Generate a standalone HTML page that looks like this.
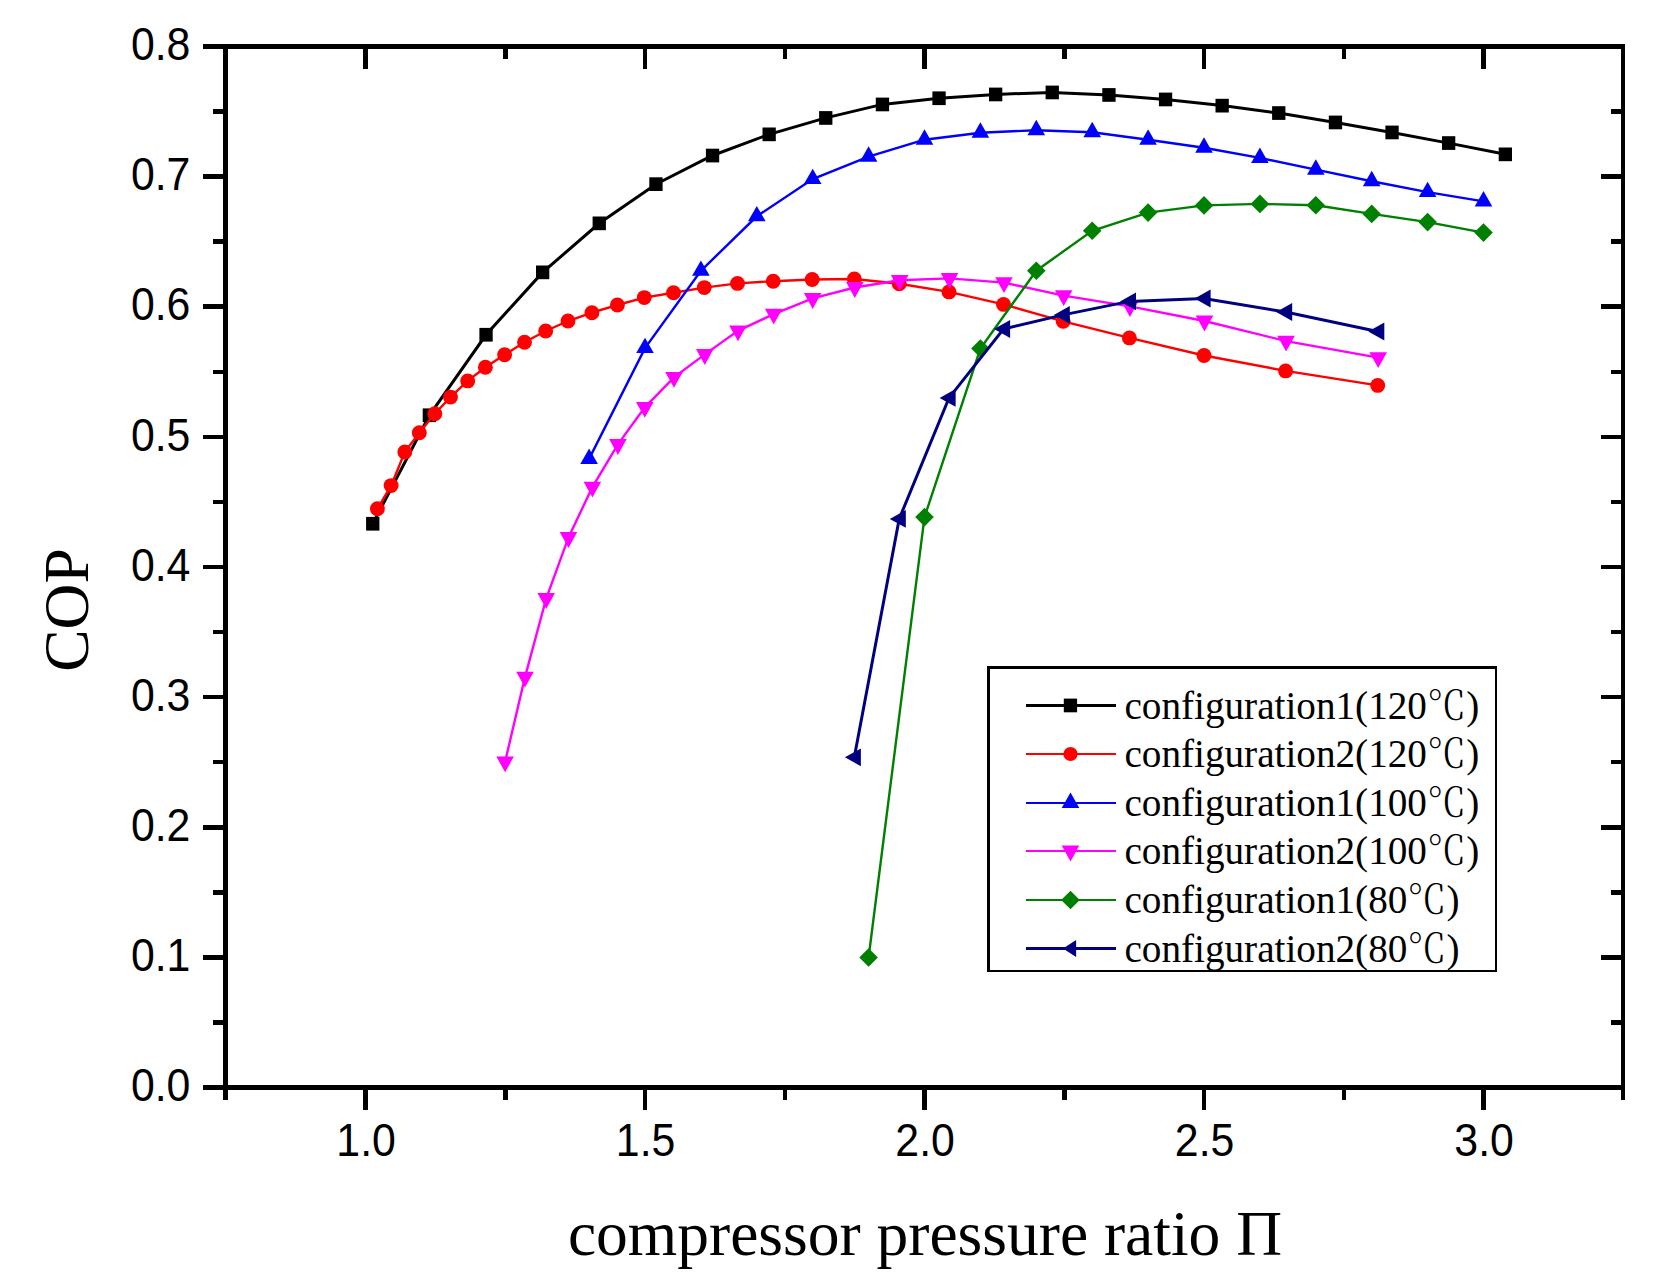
<!DOCTYPE html>
<html lang="en"><head><meta charset="utf-8"><title>COP vs compressor pressure ratio</title>
<style>html,body{margin:0;padding:0;background:#fff}body{width:1668px;height:1283px;overflow:hidden}svg{display:block}.tk{font-family:"Liberation Sans",sans-serif;font-size:45.4px;fill:#000}.ti{font-family:"Liberation Serif",serif;font-size:63.5px;fill:#000}.lg{font-family:"Liberation Serif","Noto Serif CJK SC",serif;font-size:39.2px;fill:#000}.dc{font-family:"Noto Serif CJK SC","Liberation Serif",serif;font-weight:300}</style></head><body>
<svg width="1668" height="1283" viewBox="0 0 1668 1283">
<rect width="1668" height="1283" fill="#fff"/>
<g stroke="#000" stroke-width="5.0" stroke-linecap="butt" fill="none">
<line x1="203" y1="46.5" x2="1625.0" y2="46.5"/>
<line x1="203" y1="1087.5" x2="1625.0" y2="1087.5"/>
<line x1="225.5" y1="44.0" x2="225.5" y2="1100"/>
<line x1="1623.0" y1="44.0" x2="1623.0" y2="1100" stroke-width="4"/>
</g>
<g fill="#000">
<rect x="203" y="1085" width="21" height="5"/>
<rect x="1601" y="1085" width="21" height="5"/>
<rect x="213" y="1020" width="11" height="5"/>
<rect x="1611" y="1020" width="11" height="5"/>
<rect x="203" y="955" width="21" height="5"/>
<rect x="1601" y="955" width="21" height="5"/>
<rect x="213" y="890" width="11" height="5"/>
<rect x="1611" y="890" width="11" height="5"/>
<rect x="203" y="825" width="21" height="5"/>
<rect x="1601" y="825" width="21" height="5"/>
<rect x="213" y="760" width="11" height="4"/>
<rect x="1611" y="760" width="11" height="4"/>
<rect x="203" y="695" width="21" height="4"/>
<rect x="1601" y="695" width="21" height="4"/>
<rect x="213" y="630" width="11" height="4"/>
<rect x="1611" y="630" width="11" height="4"/>
<rect x="203" y="565" width="21" height="4"/>
<rect x="1601" y="565" width="21" height="4"/>
<rect x="213" y="500" width="11" height="4"/>
<rect x="1611" y="500" width="11" height="4"/>
<rect x="203" y="435" width="21" height="4"/>
<rect x="1601" y="435" width="21" height="4"/>
<rect x="213" y="370" width="11" height="4"/>
<rect x="1611" y="370" width="11" height="4"/>
<rect x="203" y="304" width="21" height="5"/>
<rect x="1601" y="304" width="21" height="5"/>
<rect x="213" y="239" width="11" height="5"/>
<rect x="1611" y="239" width="11" height="5"/>
<rect x="203" y="174" width="21" height="5"/>
<rect x="1601" y="174" width="21" height="5"/>
<rect x="213" y="109" width="11" height="5"/>
<rect x="1611" y="109" width="11" height="5"/>
<rect x="203" y="44" width="21" height="5"/>
<rect x="1601" y="44" width="21" height="5"/>
<rect x="223" y="1086" width="5" height="14"/>
<rect x="223" y="45" width="5" height="14"/>
<rect x="363" y="1086" width="5" height="24"/>
<rect x="363" y="45" width="5" height="24"/>
<rect x="503" y="1086" width="5" height="14"/>
<rect x="503" y="45" width="5" height="14"/>
<rect x="643" y="1086" width="4" height="24"/>
<rect x="643" y="45" width="4" height="24"/>
<rect x="783" y="1086" width="4" height="14"/>
<rect x="783" y="45" width="4" height="14"/>
<rect x="922" y="1086" width="5" height="24"/>
<rect x="922" y="45" width="5" height="24"/>
<rect x="1062" y="1086" width="5" height="14"/>
<rect x="1062" y="45" width="5" height="14"/>
<rect x="1202" y="1086" width="4" height="24"/>
<rect x="1202" y="45" width="4" height="24"/>
<rect x="1342" y="1086" width="4" height="14"/>
<rect x="1342" y="45" width="4" height="14"/>
<rect x="1481" y="1086" width="5" height="24"/>
<rect x="1481" y="45" width="5" height="24"/>
<rect x="1621" y="1086" width="4" height="14"/>
<rect x="1621" y="45" width="4" height="14"/>
</g>
<g class="tk" text-anchor="end">
<text transform="translate(190.4 1101.2) scale(0.943 1)">0.0</text>
<text transform="translate(190.4 971.1) scale(0.943 1)">0.1</text>
<text transform="translate(190.4 841.0) scale(0.943 1)">0.2</text>
<text transform="translate(190.4 710.8) scale(0.943 1)">0.3</text>
<text transform="translate(190.4 580.7) scale(0.943 1)">0.4</text>
<text transform="translate(190.4 450.6) scale(0.943 1)">0.5</text>
<text transform="translate(190.4 320.4) scale(0.943 1)">0.6</text>
<text transform="translate(190.4 190.3) scale(0.943 1)">0.7</text>
<text transform="translate(190.4 60.2) scale(0.943 1)">0.8</text>
</g>
<g class="tk" text-anchor="middle">
<text transform="translate(366.1 1156) scale(0.943 1)">1.0</text>
<text transform="translate(645.6 1156) scale(0.943 1)">1.5</text>
<text transform="translate(925.1 1156) scale(0.943 1)">2.0</text>
<text transform="translate(1204.6 1156) scale(0.943 1)">2.5</text>
<text transform="translate(1484.1 1156) scale(0.943 1)">3.0</text>
</g>
<text class="ti" x="925" text-anchor="middle" y="1255">compressor pressure ratio Π</text>
<text class="ti" text-anchor="middle" transform="translate(87.8 610) rotate(-90)">COP</text>
<g>
<polyline fill="none" stroke="#000" stroke-width="3.0" points="372.8,523.8 429.4,415.3 486.0,334.8 542.6,272.4 599.3,223.3 655.9,184.2 712.5,155.5 769.2,134.3 825.8,117.9 882.4,104.4 939.0,98.2 995.7,94.4 1052.3,92.4 1108.9,94.9 1165.5,99.4 1222.2,105.6 1278.8,113.1 1335.4,122.4 1392.0,132.4 1448.7,143.1 1505.3,154.3"/>
<rect x="366.1" y="516.9" width="13.3" height="13.7" fill="#000"/>
<rect x="422.7" y="408.4" width="13.3" height="13.7" fill="#000"/>
<rect x="479.4" y="327.9" width="13.3" height="13.7" fill="#000"/>
<rect x="536.0" y="265.5" width="13.3" height="13.7" fill="#000"/>
<rect x="592.6" y="216.5" width="13.3" height="13.7" fill="#000"/>
<rect x="649.3" y="177.3" width="13.3" height="13.7" fill="#000"/>
<rect x="705.9" y="148.7" width="13.3" height="13.7" fill="#000"/>
<rect x="762.5" y="127.5" width="13.3" height="13.7" fill="#000"/>
<rect x="819.1" y="111.1" width="13.3" height="13.7" fill="#000"/>
<rect x="875.8" y="97.6" width="13.3" height="13.7" fill="#000"/>
<rect x="932.4" y="91.4" width="13.3" height="13.7" fill="#000"/>
<rect x="989.0" y="87.6" width="13.3" height="13.7" fill="#000"/>
<rect x="1045.6" y="85.6" width="13.3" height="13.7" fill="#000"/>
<rect x="1102.3" y="88.1" width="13.3" height="13.7" fill="#000"/>
<rect x="1158.9" y="92.6" width="13.3" height="13.7" fill="#000"/>
<rect x="1215.5" y="98.8" width="13.3" height="13.7" fill="#000"/>
<rect x="1272.1" y="106.2" width="13.3" height="13.7" fill="#000"/>
<rect x="1328.8" y="115.6" width="13.3" height="13.7" fill="#000"/>
<rect x="1385.4" y="125.6" width="13.3" height="13.7" fill="#000"/>
<rect x="1442.0" y="136.2" width="13.3" height="13.7" fill="#000"/>
<rect x="1498.7" y="147.5" width="13.3" height="13.7" fill="#000"/>
</g>
<g>
<polyline fill="none" stroke="#f00" stroke-width="2.4" points="377.4,508.8 391.1,485.6 404.8,452.0 419.3,432.8 434.8,413.8 450.5,397.1 467.7,380.9 485.4,367.2 504.6,354.7 524.5,342.2 545.7,331.0 568.0,321.0 591.9,312.7 617.4,305.0 644.3,297.6 673.5,292.8 704.3,287.6 737.5,283.4 773.2,281.2 812.2,279.5 854.3,279.0 899.2,283.7 949.0,291.9 1003.5,304.4 1063.2,321.3 1129.4,337.9 1204.0,355.5 1285.6,370.9 1377.7,385.4"/>
<circle cx="377.4" cy="508.8" r="7.45" fill="#f00"/>
<circle cx="391.1" cy="485.6" r="7.45" fill="#f00"/>
<circle cx="404.8" cy="452.0" r="7.45" fill="#f00"/>
<circle cx="419.3" cy="432.8" r="7.45" fill="#f00"/>
<circle cx="434.8" cy="413.8" r="7.45" fill="#f00"/>
<circle cx="450.5" cy="397.1" r="7.45" fill="#f00"/>
<circle cx="467.7" cy="380.9" r="7.45" fill="#f00"/>
<circle cx="485.4" cy="367.2" r="7.45" fill="#f00"/>
<circle cx="504.6" cy="354.7" r="7.45" fill="#f00"/>
<circle cx="524.5" cy="342.2" r="7.45" fill="#f00"/>
<circle cx="545.7" cy="331.0" r="7.45" fill="#f00"/>
<circle cx="568.0" cy="321.0" r="7.45" fill="#f00"/>
<circle cx="591.9" cy="312.7" r="7.45" fill="#f00"/>
<circle cx="617.4" cy="305.0" r="7.45" fill="#f00"/>
<circle cx="644.3" cy="297.6" r="7.45" fill="#f00"/>
<circle cx="673.5" cy="292.8" r="7.45" fill="#f00"/>
<circle cx="704.3" cy="287.6" r="7.45" fill="#f00"/>
<circle cx="737.5" cy="283.4" r="7.45" fill="#f00"/>
<circle cx="773.2" cy="281.2" r="7.45" fill="#f00"/>
<circle cx="812.2" cy="279.5" r="7.45" fill="#f00"/>
<circle cx="854.3" cy="279.0" r="7.45" fill="#f00"/>
<circle cx="899.2" cy="283.7" r="7.45" fill="#f00"/>
<circle cx="949.0" cy="291.9" r="7.45" fill="#f00"/>
<circle cx="1003.5" cy="304.4" r="7.45" fill="#f00"/>
<circle cx="1063.2" cy="321.3" r="7.45" fill="#f00"/>
<circle cx="1129.4" cy="337.9" r="7.45" fill="#f00"/>
<circle cx="1204.0" cy="355.5" r="7.45" fill="#f00"/>
<circle cx="1285.6" cy="370.9" r="7.45" fill="#f00"/>
<circle cx="1377.7" cy="385.4" r="7.45" fill="#f00"/>
</g>
<g>
<polyline fill="none" stroke="#00f" stroke-width="2.4" points="589.1,458.9 645.0,348.1 700.9,270.8 756.8,216.3 812.7,179.1 868.6,156.7 924.5,139.7 980.4,132.7 1036.3,130.2 1092.2,132.2 1148.1,139.7 1204.0,147.7 1259.9,157.9 1315.8,169.7 1371.7,181.2 1427.6,192.1 1483.5,201.4"/>
<polygon fill="#00f" points="589.1,448.5 597.9,463.9 580.3,463.9"/>
<polygon fill="#00f" points="645.0,337.7 653.8,353.1 636.2,353.1"/>
<polygon fill="#00f" points="700.9,260.4 709.7,275.8 692.1,275.8"/>
<polygon fill="#00f" points="756.8,205.9 765.6,221.3 748.0,221.3"/>
<polygon fill="#00f" points="812.7,168.7 821.5,184.1 803.9,184.1"/>
<polygon fill="#00f" points="868.6,146.3 877.4,161.7 859.8,161.7"/>
<polygon fill="#00f" points="924.5,129.3 933.3,144.7 915.7,144.7"/>
<polygon fill="#00f" points="980.4,122.3 989.2,137.7 971.6,137.7"/>
<polygon fill="#00f" points="1036.3,119.8 1045.1,135.2 1027.5,135.2"/>
<polygon fill="#00f" points="1092.2,121.8 1101.0,137.2 1083.4,137.2"/>
<polygon fill="#00f" points="1148.1,129.3 1156.9,144.7 1139.3,144.7"/>
<polygon fill="#00f" points="1204.0,137.3 1212.8,152.7 1195.2,152.7"/>
<polygon fill="#00f" points="1259.9,147.5 1268.7,162.9 1251.1,162.9"/>
<polygon fill="#00f" points="1315.8,159.3 1324.6,174.7 1307.0,174.7"/>
<polygon fill="#00f" points="1371.7,170.8 1380.5,186.2 1362.9,186.2"/>
<polygon fill="#00f" points="1427.6,181.7 1436.4,197.1 1418.8,197.1"/>
<polygon fill="#00f" points="1483.5,191.0 1492.3,206.4 1474.7,206.4"/>
</g>
<g>
<polyline fill="none" stroke="#f0f" stroke-width="2.4" points="505.1,761.8 525.0,677.1 546.2,598.5 568.5,537.4 592.4,487.1 617.9,444.4 644.8,407.3 674.0,377.3 704.8,354.4 738.0,330.8 773.7,314.1 812.7,298.4 854.8,287.5 899.7,280.2 949.5,278.4 1004.0,282.6 1063.7,295.6 1129.9,306.4 1204.5,321.0 1286.1,341.1 1378.2,357.6"/>
<polygon fill="#f0f" points="505.1,772.2 513.9,756.4 496.3,756.4"/>
<polygon fill="#f0f" points="525.0,687.6 533.8,671.7 516.2,671.7"/>
<polygon fill="#f0f" points="546.2,609.0 555.0,593.1 537.4,593.1"/>
<polygon fill="#f0f" points="568.5,547.9 577.3,532.0 559.7,532.0"/>
<polygon fill="#f0f" points="592.4,497.6 601.2,481.7 583.6,481.7"/>
<polygon fill="#f0f" points="617.9,454.9 626.7,439.1 609.1,439.1"/>
<polygon fill="#f0f" points="644.8,417.8 653.6,401.9 636.0,401.9"/>
<polygon fill="#f0f" points="674.0,387.8 682.8,371.9 665.2,371.9"/>
<polygon fill="#f0f" points="704.8,364.9 713.6,349.1 696.0,349.1"/>
<polygon fill="#f0f" points="738.0,341.2 746.8,325.4 729.2,325.4"/>
<polygon fill="#f0f" points="773.7,324.6 782.5,308.7 764.9,308.7"/>
<polygon fill="#f0f" points="812.7,308.9 821.5,293.0 803.9,293.0"/>
<polygon fill="#f0f" points="854.8,298.0 863.6,282.1 846.0,282.1"/>
<polygon fill="#f0f" points="899.7,290.8 908.5,274.9 890.9,274.9"/>
<polygon fill="#f0f" points="949.5,288.9 958.3,273.1 940.7,273.1"/>
<polygon fill="#f0f" points="1004.0,293.1 1012.8,277.2 995.2,277.2"/>
<polygon fill="#f0f" points="1063.7,306.1 1072.5,290.2 1054.9,290.2"/>
<polygon fill="#f0f" points="1129.9,316.9 1138.7,301.1 1121.1,301.1"/>
<polygon fill="#f0f" points="1204.5,331.5 1213.3,315.6 1195.7,315.6"/>
<polygon fill="#f0f" points="1286.1,351.6 1294.9,335.8 1277.3,335.8"/>
<polygon fill="#f0f" points="1378.2,368.1 1387.0,352.2 1369.4,352.2"/>
</g>
<g>
<polyline fill="none" stroke="#008000" stroke-width="2.4" points="868.6,957.5 924.5,517.1 980.4,348.5 1036.3,270.7 1092.2,230.8 1148.1,212.6 1204.0,205.4 1259.9,203.9 1315.8,205.2 1371.7,213.9 1427.6,222.1 1483.5,232.6"/>
<polygon fill="#008000" points="868.6,948.2 877.9,957.5 868.6,966.8 859.3,957.5"/>
<polygon fill="#008000" points="924.5,507.8 933.8,517.1 924.5,526.4 915.2,517.1"/>
<polygon fill="#008000" points="980.4,339.2 989.7,348.5 980.4,357.8 971.1,348.5"/>
<polygon fill="#008000" points="1036.3,261.4 1045.6,270.7 1036.3,280.0 1027.0,270.7"/>
<polygon fill="#008000" points="1092.2,221.5 1101.5,230.8 1092.2,240.1 1082.9,230.8"/>
<polygon fill="#008000" points="1148.1,203.3 1157.4,212.6 1148.1,221.9 1138.8,212.6"/>
<polygon fill="#008000" points="1204.0,196.1 1213.3,205.4 1204.0,214.7 1194.7,205.4"/>
<polygon fill="#008000" points="1259.9,194.6 1269.2,203.9 1259.9,213.2 1250.6,203.9"/>
<polygon fill="#008000" points="1315.8,195.9 1325.1,205.2 1315.8,214.5 1306.5,205.2"/>
<polygon fill="#008000" points="1371.7,204.6 1381.0,213.9 1371.7,223.2 1362.4,213.9"/>
<polygon fill="#008000" points="1427.6,212.8 1436.9,222.1 1427.6,231.4 1418.3,222.1"/>
<polygon fill="#008000" points="1483.5,223.3 1492.8,232.6 1483.5,241.9 1474.2,232.6"/>
</g>
<g>
<polyline fill="none" stroke="#000080" stroke-width="3.0" points="854.3,757.3 899.2,518.9 949.0,397.9 1003.5,329.0 1063.2,314.9 1129.4,301.4 1204.0,298.5 1285.6,312.0 1377.7,331.5"/>
<polygon fill="#000080" points="844.9,757.3 860.9,748.4 860.9,766.2"/>
<polygon fill="#000080" points="889.8,518.9 905.8,510.0 905.8,527.8"/>
<polygon fill="#000080" points="939.6,397.9 955.6,389.0 955.6,406.8"/>
<polygon fill="#000080" points="994.1,329.0 1010.1,320.1 1010.1,337.9"/>
<polygon fill="#000080" points="1053.8,314.9 1069.8,306.0 1069.8,323.8"/>
<polygon fill="#000080" points="1120.0,301.4 1136.0,292.5 1136.0,310.3"/>
<polygon fill="#000080" points="1194.6,298.5 1210.6,289.6 1210.6,307.4"/>
<polygon fill="#000080" points="1276.2,312.0 1292.2,303.1 1292.2,320.9"/>
<polygon fill="#000080" points="1368.3,331.5 1384.3,322.6 1384.3,340.4"/>
</g>
<rect x="987" y="666" width="510" height="306" fill="#000"/><rect x="990" y="669" width="505" height="301" fill="#fff"/>
<line x1="1026" y1="705.5" x2="1116" y2="705.5" stroke="#000" stroke-width="3.0"/>
<rect x="1063.8" y="698.6" width="13.3" height="13.7" fill="#000"/>
<text class="lg" x="1124.4" y="718.8">configuration1(120<tspan class="dc" dx="0">℃</tspan><tspan dx="0">)</tspan></text>
<line x1="1026" y1="754.0" x2="1116" y2="754.0" stroke="#f00" stroke-width="2.0"/>
<circle cx="1070.5" cy="754.0" r="7.1" fill="#f00"/>
<text class="lg" x="1124.4" y="767.3">configuration2(120<tspan class="dc" dx="0">℃</tspan><tspan dx="0">)</tspan></text>
<line x1="1026" y1="803.0" x2="1116" y2="803.0" stroke="#00f" stroke-width="2.0"/>
<polygon fill="#00f" points="1070.5,792.6 1079.3,808.0 1061.7,808.0"/>
<text class="lg" x="1124.4" y="816.3">configuration1(100<tspan class="dc" dx="0">℃</tspan><tspan dx="0">)</tspan></text>
<line x1="1026" y1="851.0" x2="1116" y2="851.0" stroke="#f0f" stroke-width="2.0"/>
<polygon fill="#f0f" points="1070.5,861.5 1079.3,845.6 1061.7,845.6"/>
<text class="lg" x="1124.4" y="864.3">configuration2(100<tspan class="dc" dx="0">℃</tspan><tspan dx="0">)</tspan></text>
<line x1="1026" y1="900.0" x2="1116" y2="900.0" stroke="#008000" stroke-width="2.0"/>
<polygon fill="#008000" points="1070.5,890.7 1079.8,900.0 1070.5,909.3 1061.2,900.0"/>
<text class="lg" x="1124.4" y="913.3">configuration1(80<tspan class="dc" dx="0">℃</tspan><tspan dx="0">)</tspan></text>
<line x1="1026" y1="948.5" x2="1116" y2="948.5" stroke="#000080" stroke-width="3.0"/>
<polygon fill="#000080" points="1063.0,948.5 1076.1,940.0 1076.1,957.0"/>
<text class="lg" x="1124.4" y="961.8">configuration2(80<tspan class="dc" dx="0">℃</tspan><tspan dx="0">)</tspan></text>
</svg></body></html>
